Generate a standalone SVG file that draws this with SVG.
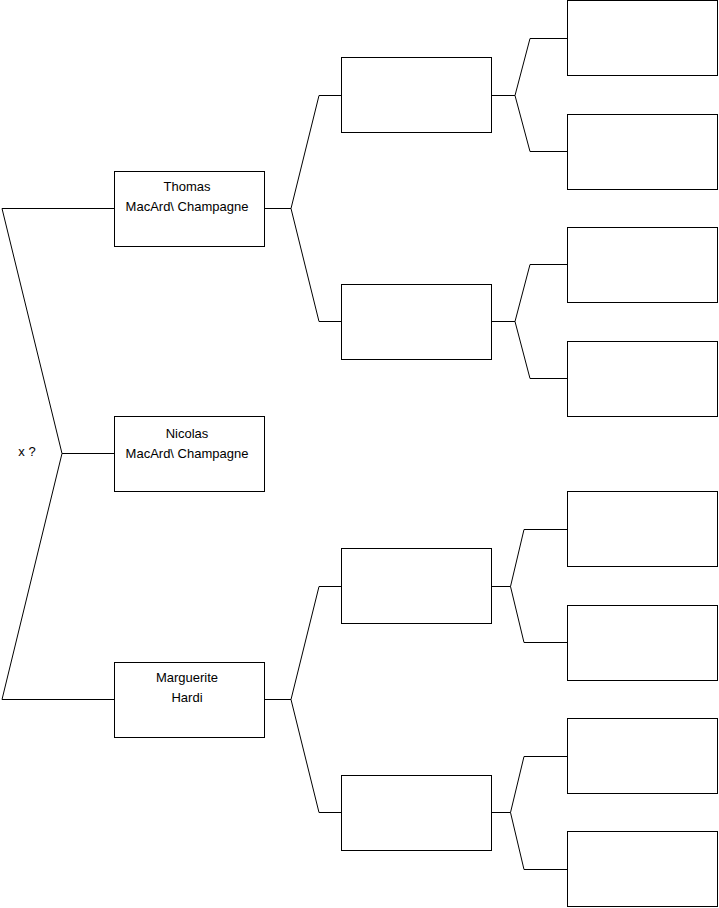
<svg xmlns="http://www.w3.org/2000/svg" width="719" height="908" viewBox="0 0 719 908">
<style>
.box{fill:#fff;stroke:#000;stroke-width:1}
.con{fill:none;stroke:#000;stroke-width:1}
text{font-family:"Liberation Sans",Arial,sans-serif;font-size:13px;fill:#000;text-anchor:middle}
</style>
<rect width="719" height="908" fill="#fff"/>
<g id="connectors">
<path class="con" d="M114,208.5 H2 L62,453.5 L2,699.5 H114 M62,453.5 H114"/>
<path class="con" d="M265,208.5 H291 M319,95.5 H341 M319,321.5 H341 M319,95.5 L291,208.5 L319,321.5"/>
<path class="con" d="M265,699.5 H291 M319,586.5 H341 M319,812.5 H341 M319,586.5 L291,699.5 L319,812.5"/>
<path class="con" d="M492,95.5 H515 L530,38.5 H567 M515,95.5 L530,151.5 H567"/>
<path class="con" d="M492,321.5 H515 L530,264.5 H567 M515,321.5 L530,378.5 H567"/>
<path class="con" d="M492,586.5 H510.5 L524,529.5 H567 M510.5,586.5 L524,642.5 H567"/>
<path class="con" d="M492,812.5 H510.5 L524,756.5 H567 M510.5,812.5 L524,869.5 H567"/>
</g>
<text x="27" y="456">x ?</text>
<g id="n-thomas"><rect class="box" x="114.5" y="171.5" width="150" height="75"/><text x="187" y="191">Thomas</text><text x="187" y="211">MacArd\ Champagne</text></g>
<g id="n-nicolas"><rect class="box" x="114.5" y="416.5" width="150" height="75"/><text x="187" y="438">Nicolas</text><text x="187" y="458">MacArd\ Champagne</text></g>
<g id="n-marguerite"><rect class="box" x="114.5" y="662.5" width="150" height="75"/><text x="187" y="682">Marguerite</text><text x="187" y="702">Hardi</text></g>
<g id="n-g2a"><rect class="box" x="341.5" y="57.5" width="150" height="75"/></g>
<g id="n-g2b"><rect class="box" x="341.5" y="284.5" width="150" height="75"/></g>
<g id="n-g2c"><rect class="box" x="341.5" y="548.5" width="150" height="75"/></g>
<g id="n-g2d"><rect class="box" x="341.5" y="775.5" width="150" height="75"/></g>
<g id="n-g3a"><rect class="box" x="567.5" y="0.5" width="150" height="75"/></g>
<g id="n-g3b"><rect class="box" x="567.5" y="114.5" width="150" height="75"/></g>
<g id="n-g3c"><rect class="box" x="567.5" y="227.5" width="150" height="75"/></g>
<g id="n-g3d"><rect class="box" x="567.5" y="341.5" width="150" height="75"/></g>
<g id="n-g3e"><rect class="box" x="567.5" y="491.5" width="150" height="75"/></g>
<g id="n-g3f"><rect class="box" x="567.5" y="605.5" width="150" height="75"/></g>
<g id="n-g3g"><rect class="box" x="567.5" y="718.5" width="150" height="75"/></g>
<g id="n-g3h"><rect class="box" x="567.5" y="831.5" width="150" height="75"/></g>
</svg>
